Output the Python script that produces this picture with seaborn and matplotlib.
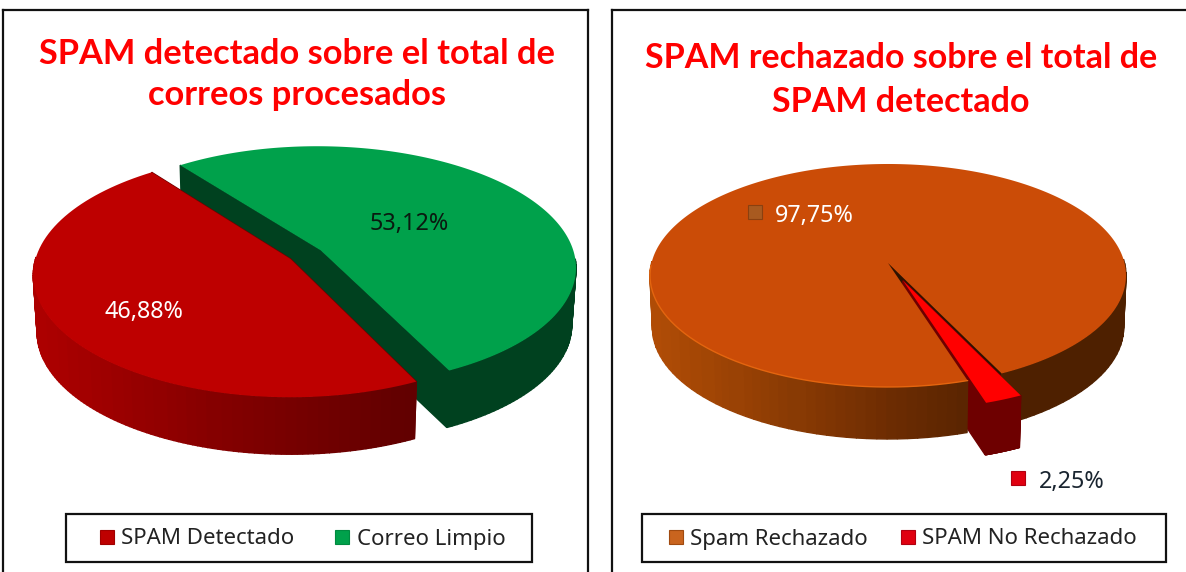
import numpy as np
import matplotlib
matplotlib.use('Agg')
import matplotlib.pyplot as plt
import seaborn as sns
from matplotlib.lines import Line2D
from matplotlib.patches import Rectangle
from matplotlib.path import Path
from matplotlib.transforms import Transform

WIDTH, HEIGHT = 1186, 572

# chart data
spam_labels = ['SPAM Detectado', 'Correo Limpio']
spam_values = [46.88, 53.12]
spam_title = 'SPAM detectado sobre el total de\ncorreos procesados'

rejected_labels = ['Spam Rechazado', 'SPAM No Rechazado']
rejected_values = [97.75, 2.25]
rejected_title = 'SPAM rechazado sobre el total de\nSPAM detectado'

sns.set_theme(style='white')
plt.rcParams['font.family'] = ['Noto Sans', 'DejaVu Sans']


class PieTilt(Transform):
    """Perspective view of the unit pie, result is in figure pixels."""
    input_dims = 2
    output_dims = 2
    has_inverse = False

    def __init__(self, cx, cy, a, b, k):
        super().__init__()
        self.cx, self.cy, self.a, self.b, self.k = cx, cy, a, b, k

    def transform_non_affine(self, values):
        values = np.asarray(values)
        u, v = values[:, 0], values[:, 1]
        w = 1 + self.k * v
        return np.column_stack([self.cx + self.a * u / w, self.cy - self.b * v / w])

    def transform_path_non_affine(self, path):
        # flatten the wedge curves first, the view is not affine
        t = np.linspace(0, 1, 24)
        pts = [curve(t) for curve, code in path.iter_bezier() if code != Path.MOVETO]
        return Path(self.transform_non_affine(np.vstack(pts)), closed=False)


def panel(x0, y0, x1, y1):
    # axes whose data units are the pixels of the figure
    ax = plt.gcf().add_axes([x0 / WIDTH, 1 - y1 / HEIGHT, (x1 - x0) / WIDTH, (y1 - y0) / HEIGHT])
    ax.set_facecolor('white')
    for spine in ax.spines.values():
        spine.set_linewidth(1.6)
        spine.set_color('#111111')
    return ax, (x0, x1, y1, y0)


def draw_wall(ax, tilt, depth, shrink, points, palette, x_range, skip_back=False):
    top = tilt.transform_non_affine(points)
    bottom = np.column_stack([tilt.cx + (top[:, 0] - tilt.cx) * shrink, top[:, 1] + depth])
    for i in range(len(top) - 1):
        # the back of the rim never shows, its edge would only peek out behind the top face
        if skip_back and top[i, 1] < tilt.cy and top[i + 1, 1] < tilt.cy:
            continue
        pos = (top[i, 0] + top[i + 1, 0]) / 2
        idx = int(np.clip((pos - x_range[0]) / (x_range[1] - x_range[0]), 0, 1) * (len(palette) - 1))
        quad = np.vstack([top[i], top[i + 1], bottom[i + 1], bottom[i]])
        ax.fill(quad[:, 0], quad[:, 1], color=palette[idx], lw=1.0, zorder=2)


def draw_pie(ax, limits, values, tops, walls, cuts, explode, startangle, tilt, depth, shrink, order):
    wedges, _ = ax.pie(values, colors=tops, explode=explode, startangle=startangle,
                       frame=True, wedgeprops={'linewidth': 0})
    x_range = (tilt.cx - tilt.a, tilt.cx + tilt.a)

    rims = {}
    for i in order:
        w = wedges[i]
        c = np.array(w.center)
        theta = np.radians(np.linspace(w.theta1, w.theta2, 160))
        rims[i] = c + w.r * np.column_stack([np.cos(theta), np.sin(theta)])
        # inner faces go first, the outer walls hide what sticks out of them
        draw_wall(ax, tilt, depth, shrink, np.vstack([c, rims[i][0]]), [cuts[i]], x_range)
        draw_wall(ax, tilt, depth, shrink, np.vstack([c, rims[i][-1]]), [cuts[i]], x_range)
    for i in order:
        draw_wall(ax, tilt, depth, shrink, rims[i], walls[i], x_range, skip_back=True)

    for rank, i in enumerate(order):
        wedges[i].set_transform(tilt + ax.transData)
        wedges[i].set_zorder(5 + rank)

    ax.set_aspect('auto')
    ax.set_xlim(limits[0], limits[1])
    ax.set_ylim(limits[2], limits[3])
    ax.set_xticks([])
    ax.set_yticks([])
    return rims


def pct(value):
    return f'{value:.2f}%'.replace('.', ',')


def draw_legend(ax, labels, colors, edges, box, start, columnspacing):
    ax.add_patch(Rectangle(box[:2], box[2], box[3], fc='white', ec='#111111', lw=1.6, zorder=19))
    handles = [Line2D([], [], ls='', marker='s', ms=10.5, mfc=c, mec=e, mew=0.8) for c, e in zip(colors, edges)]
    leg = ax.legend(handles, labels, ncol=2, loc='center left', bbox_to_anchor=(start, box[1] + box[3] / 2 + 1),
                    bbox_transform=ax.transData, frameon=False, fontsize=16, handlelength=0.7,
                    handletextpad=0.3, columnspacing=columnspacing, borderaxespad=0, borderpad=0,
                    labelcolor='#222222')
    leg.set_zorder(20)


fig = plt.figure(figsize=(WIDTH / 100, HEIGHT / 100), dpi=100, facecolor='white')

# left chart
ax, limits = panel(3, 10, 588, 590)
red_side = sns.blend_palette(['#AC0000', '#860000', '#660000', '#4E0000'], 48)
green_side = ['#00411F']
draw_pie(ax, limits, spam_values, ['#BE0000', '#00A14B'], [red_side, green_side], ['#6E0000', '#00411F'],
         [0, 0.14], 127, PieTilt(290.5, 259, 255, 120, 0.132), 57, 0.985, [1, 0])
ax.text(297, 74.5, spam_title, color='#FF0000', fontsize=24.75, family='Lato', weight='bold',
        ha='center', va='center', linespacing=1.34, zorder=10)
ax.text(144, 312, pct(spam_values[0]), color='white', fontsize=16.8, ha='center', va='center', zorder=10)
ax.text(409, 224, pct(spam_values[1]), color='#0A1A10', fontsize=16.8, ha='center', va='center', zorder=10)
draw_legend(ax, spam_labels, ['#BE0000', '#00A14B'], ['#A00000', '#008A40'], (66, 562, 466, -48), 99, 1.8)

# right chart
ax, limits = panel(612, 10, 1210, 590)
orange_side = sns.blend_palette(['#B04C06', '#8F3D04', '#6B2B02', '#4E2000', '#4E2000'], 48)
orange_tilt = PieTilt(888, 263, 236.5, 110.1, 0.112)
rims = draw_pie(ax, limits, rejected_values, ['#CB4C07', '#FF0000'], [orange_side, ['#6E0000']], ['#2E1200', '#6E0000'],
                [0, 0.17], 295.6, orange_tilt, 52, 0.99, [0, 1])
# light edge on the front of the orange face
front = rims[0][(rims[0][:, 0] < 0.31) & (rims[0][:, 1] < 0)]
front = orange_tilt.transform_non_affine(front)
ax.plot(front[:, 0], front[:, 1], color='#E4650F', lw=1.0, zorder=7)
ax.text(901, 80, rejected_title, color='#FF0000', fontsize=24.5, family='Lato', weight='bold',
        ha='center', va='center', linespacing=1.45, zorder=10)
ax.text(814, 216, pct(rejected_values[0]), color='white', fontsize=16.8, ha='center', va='center', zorder=10)
ax.text(1072, 482, pct(rejected_values[1]), color='#1A2530', fontsize=16.8, ha='center', va='center', zorder=10)
ax.plot([755], [212], ls='', marker='s', ms=10, mfc='#A85A20', mec='#8A4010', mew=0.8, zorder=10)
ax.plot([1018], [478], ls='', marker='s', ms=10, mfc='#E00010', mec='#B00010', mew=0.8, zorder=10)
draw_legend(ax, rejected_labels, ['#C9641E', '#E00010'], ['#A04A10', '#B00010'], (642, 562, 524, -48), 668, 1.45)

fig.savefig('out.png', dpi=100, facecolor='white')
